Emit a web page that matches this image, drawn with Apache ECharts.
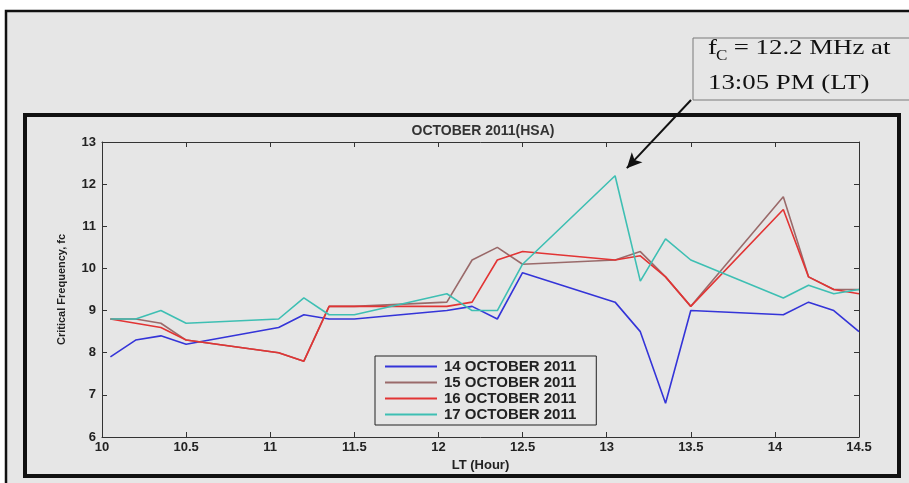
<!DOCTYPE html>
<html>
<head>
<meta charset="utf-8">
<script src="https://cdn.jsdelivr.net/npm/echarts@6/dist/echarts.min.js"></script>
<style>
  html, body { margin: 0; padding: 0; background: #ffffff; }
  #chart { width: 909px; height: 483px; }
</style>
</head>
<body>
<div id="chart"></div>
<script>
// Local time of each sounding (HH.MM written as a decimal)
const hours = [10.05, 10.2, 10.35, 10.5, 11.05, 11.2, 11.35, 11.5, 12.05, 12.2,
               12.35, 12.5, 13.05, 13.2, 13.35, 13.5, 14.05, 14.2, 14.35, 14.5];

// Critical frequency fc (MHz) for each day
const oct14 = [7.9, 8.3, 8.4, 8.2, 8.6, 8.9, 8.8, 8.8, 9.0, 9.1,
               8.8, 9.9, 9.2, 8.5, 6.8, 9.0, 8.9, 9.2, 9.0, 8.5];
const oct15 = [8.8, 8.8, 8.7, 8.3, 8.0, 7.8, 9.1, 9.1, 9.2, 10.2,
               10.5, 10.1, 10.2, 10.4, 9.8, 9.1, 11.7, 9.8, 9.5, 9.5];
const oct16 = [8.8, 8.7, 8.6, 8.3, 8.0, 7.8, 9.1, 9.1, 9.1, 9.2,
               10.2, 10.4, 10.2, 10.3, 9.8, 9.1, 11.4, 9.8, 9.5, 9.4];
const oct17 = [8.8, 8.8, 9.0, 8.7, 8.8, 9.3, 8.9, 8.9, 9.4, 9.0,
               9.0, 10.1, 12.2, 9.7, 10.7, 10.2, 9.3, 9.6, 9.4, 9.5];

const seriesNames = ['14 OCTOBER 2011', '15 OCTOBER 2011', '16 OCTOBER 2011', '17 OCTOBER 2011'];
const seriesValues = [oct14, oct15, oct16, oct17];
const seriesColors = ['#3434d8', '#9a6a6a', '#e23434', '#3ebfb3'];

// Peak annotation
const peakHour = 13.05;
const peakValue = 12.2;
const noteLine1 = 'f';
const noteSub = 'C';
const noteRest1 = ' = 12.2 MHz at';
const noteLine2 = '13:05 PM (LT)';

const xTicks = { min: 10, max: 14.5, interval: 0.5 };
const yTicks = { min: 6, max: 13, interval: 1 };

const paper = '#e6e6e6';
const ink = '#222222';
const serif = '22px "Liberation Serif", "Times New Roman", serif';

const chart = echarts.init(document.getElementById('chart'));

const series = seriesNames.map((name, k) => ({
  name: name,
  type: 'line',
  xAxisIndex: 0,
  yAxisIndex: 0,
  data: hours.map((h, i) => [h, seriesValues[k][i]]),
  showSymbol: false,
  symbol: 'none',
  lineStyle: { width: 1.6, color: seriesColors[k] },
  itemStyle: { color: seriesColors[k] },
  z: 2 + k
}));

// Arrow pointing at the peak of 17 October
series[3].markLine = {
  silent: true,
  symbol: ['none', 'arrow'],
  symbolSize: [11, 15],
  label: { show: false },
  lineStyle: { color: '#111111', width: 2, type: 'solid' },
  data: [[
    { x: 691, y: 100 },
    { coord: [peakHour + 0.07, peakValue + 0.18] }
  ]]
};

const axisText = { color: ink, fontFamily: 'Liberation Sans, Arial, sans-serif', fontWeight: 'bold', fontSize: 13 };

// stretched serif text for the note box
function note(text, x, y, font) {
  return {
    type: 'text', z: 51, silent: true, x: x, y: y, scaleX: 1.22, originX: 0, originY: 0,
    style: { text: text, fill: '#111111', font: font, textVerticalAlign: 'bottom' }
  };
}

chart.setOption({
  backgroundColor: '#ffffff',
  animation: false,
  title: {
    text: 'OCTOBER 2011(HSA)',
    left: 478,
    top: 119,
    textAlign: 'center',
    textStyle: { color: '#333333', fontFamily: 'Liberation Sans, Arial, sans-serif', fontWeight: 'bold', fontSize: 14 }
  },
  grid: { left: 102, right: 50, top: 142, bottom: 46, containLabel: false },
  legend: {
    orient: 'vertical',
    left: 375,
    top: 356,
    icon: 'rect',
    itemWidth: 52,
    itemHeight: 2,
    itemGap: 1,
    padding: [3, 20, 3, 10],
    borderColor: ink,
    borderWidth: 1,
    backgroundColor: paper,
    data: seriesNames,
    textStyle: {
      color: ink, fontFamily: 'Liberation Sans, Arial, sans-serif', fontWeight: 'bold',
      fontSize: 15, lineHeight: 15, padding: [0, 0, 0, 2]
    }
  },
  xAxis: [
    {
      type: 'value', position: 'bottom',
      min: xTicks.min, max: xTicks.max, interval: xTicks.interval,
      name: 'LT (Hour)', nameLocation: 'middle', nameGap: 22,
      nameTextStyle: Object.assign({}, axisText, { fontSize: 13 }),
      axisLine: { lineStyle: { color: '#333333', width: 1 } },
      axisTick: { inside: true, length: 5, lineStyle: { color: '#333333' } },
      axisLabel: Object.assign({ margin: 4 }, axisText),
      splitLine: { show: false }
    },
    {
      type: 'value', position: 'top',
      min: xTicks.min, max: xTicks.max, interval: xTicks.interval,
      axisLine: { show: true, lineStyle: { color: '#333333', width: 1 } },
      axisTick: { inside: true, length: 5, lineStyle: { color: '#333333' } },
      axisLabel: { show: false },
      splitLine: { show: false }
    }
  ],
  yAxis: [
    {
      type: 'value', position: 'left',
      min: yTicks.min, max: yTicks.max, interval: yTicks.interval,
      name: 'Critical Frequency, fc', nameLocation: 'middle', nameGap: 35, nameRotate: 90,
      nameTextStyle: { color: ink, fontFamily: 'Liberation Sans, Arial, sans-serif', fontSize: 11, fontWeight: 'bold' },
      axisLine: { show: true, lineStyle: { color: '#333333', width: 1 } },
      axisTick: { show: true, inside: true, length: 5, lineStyle: { color: '#333333' } },
      axisLabel: Object.assign({ margin: 6 }, axisText),
      splitLine: { show: false }
    },
    {
      type: 'value', position: 'right',
      min: yTicks.min, max: yTicks.max, interval: yTicks.interval,
      axisLine: { show: true, lineStyle: { color: '#333333', width: 1 } },
      axisTick: { show: true, inside: true, length: 5, lineStyle: { color: '#333333' } },
      axisLabel: { show: false },
      splitLine: { show: false }
    }
  ],
  graphic: [
    // outer page frame
    { type: 'rect', z: -20, silent: true,
      shape: { x: 6, y: 11, width: 960, height: 500 },
      style: { fill: paper, stroke: '#111111', lineWidth: 2.5 } },
    // heavy frame around the figure
    { type: 'rect', z: -10, silent: true,
      shape: { x: 25, y: 115, width: 874, height: 361 },
      style: { fill: paper, stroke: '#111111', lineWidth: 4 } },
    // note box
    { type: 'rect', z: 50, silent: true,
      shape: { x: 693, y: 38, width: 230, height: 62 },
      style: { fill: paper, stroke: '#7a7a7a', lineWidth: 1 } },
    note(noteLine1, 708, 59, serif),
    note(noteSub, 716, 63, '14px "Liberation Serif", "Times New Roman", serif'),
    note(noteRest1, 727, 59, serif),
    note(noteLine2, 708, 94, serif)
  ],
  series: series
});
</script>
</body>
</html>
